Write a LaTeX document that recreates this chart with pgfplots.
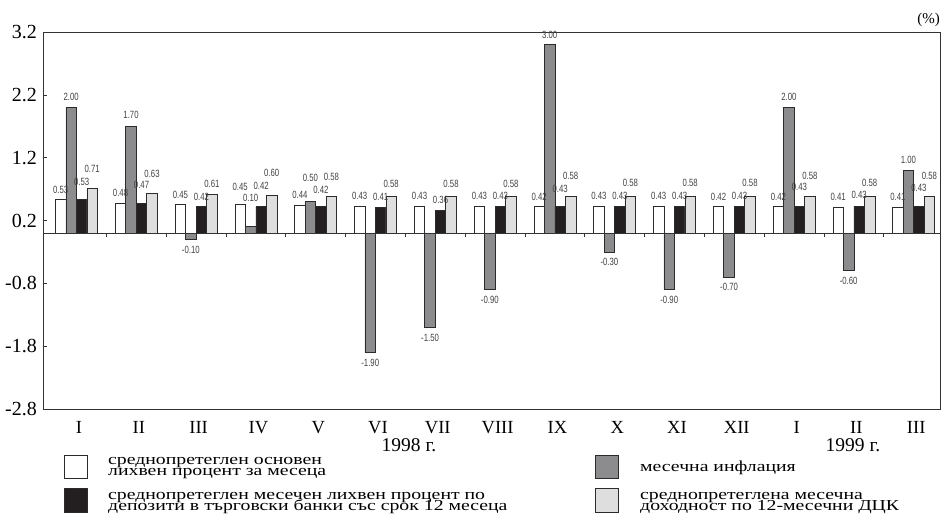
\documentclass[border=0pt]{standalone}
\usepackage{pgfplots}
\pgfplotsset{compat=1.18}
\usepackage{pgfplotstable}
\usepackage{fontspec}
\setmainfont{Liberation Serif}
\newfontfamily\labelfont[FakeStretch=0.74]{Liberation Sans}
\newfontfamily\legendfont[FakeStretch=1.3]{Liberation Serif}
% legend captions: fixed 11pt leading, whatever the line contents
\newcommand\legendstyle{\legendfont\fontsize{15.2}{11}\selectfont
  \lineskiplimit=-20pt\relax\lineskip=0pt\relax}

\definecolor{bargray}{HTML}{8C8C8E}
\definecolor{barblack}{HTML}{231F20}
\definecolor{barlight}{HTML}{DEDEDE}
\definecolor{edge}{HTML}{2B2B2B}

% x = month index, y = value (%), dy = extra lift of the value label (pt)
\pgfplotstableread{
x y dy
0 0.53 0
1 0.48 0
2 0.45 0
3 0.45 8
4 0.44 0
5 0.43 0
6 0.43 0
7 0.43 0
8 0.42 0
9 0.43 0
10 0.43 0
11 0.42 0
12 0.42 0
13 0.41 0
14 0.41 0
}\basicrate

\pgfplotstableread{
x y dy
0 2.00 0
1 1.70 1
2 -0.10 0
3 0.10 19
4 0.50 14
5 -1.90 0
6 -1.50 0
7 -0.90 0
8 3.00 0
9 -0.30 0
10 -0.90 0
11 -0.70 0
12 2.00 0
13 -0.60 0
14 1.00 0
}\inflation

\pgfplotstableread{
x y dy
0 0.53 8
1 0.47 9
2 0.42 0
3 0.42 11
4 0.42 7
5 0.41 0
6 0.36 0
7 0.43 0
8 0.43 7
9 0.43 0
10 0.43 0
11 0.43 0
12 0.43 9
13 0.43 1
14 0.43 8
}\deposits

\pgfplotstableread{
x y dy
0 0.71 10
1 0.63 10
2 0.61 1
3 0.60 12
4 0.58 10
5 0.58 3
6 0.58 3
7 0.58 3
8 0.58 11
9 0.58 4
10 0.58 4
11 0.58 4
12 0.58 11
13 0.58 4
14 0.58 11
}\govsec

\begin{document}
\begin{tikzpicture}
\path[use as bounding box] (-43pt,-106pt) rectangle (900pt,409pt);
\begin{axis}[
  at={(0pt,0pt)}, anchor=south west, scale only axis,
  width=897pt, height=377pt,
  xmin=-0.56, xmax=14.44, ymin=-2.8, ymax=3.2,
  axis line style={draw=black!80, line width=0.6pt},
  xtick={0,...,14},
  xticklabels={I,II,III,IV,V,VI,VII,VIII,IX,X,XI,XII,I,II,III},
  major x tick style={draw=none},
  xticklabel style={font=\fontsize{18.5}{18.5}\selectfont, anchor=north,
    inner sep=0pt, yshift=-8.5pt, xshift=2.5pt},
  ytick={-2.8,-1.8,-0.8,0.2,1.2,2.2,3.2},
  yticklabel style={font=\fontsize{20}{20}\selectfont, anchor=east,
    inner sep=0pt, xshift=-6pt,
    /pgf/number format/fixed, /pgf/number format/fixed zerofill,
    /pgf/number format/precision=1, /pgf/number format/assume math mode=true},
  ytick pos=left, tick align=inside, major tick length=4pt,
  ytick style={draw=black!80, line width=0.6pt},
  ybar, bar width=10.5pt,
  every axis plot/.append style={draw=edge, line width=0.7pt},
  nodes near coords={\pgfmathprintnumber[fixed,fixed zerofill,precision=2,assume math mode=true]{\pgfplotspointmeta}},
  nodes near coords style={font=\labelfont\fontsize{10.5}{10.5}\selectfont,
    text=black!75, inner xsep=0pt, inner ysep=6pt},
  visualization depends on={\thisrow{dy} \as \dy},
  every node near coord/.append style={yshift=\dy pt},
  clip=false,
]
\addplot[fill=white, bar shift=-15.75pt] table[x=x, y=y] {\basicrate};
\addplot[fill=bargray, bar shift=-5.25pt] table[x=x, y=y] {\inflation};
\addplot[fill=barblack, bar shift=5.25pt] table[x=x, y=y] {\deposits};
\addplot[fill=barlight, bar shift=15.75pt] table[x=x, y=y] {\govsec};

% zero line and the month separators on it
\draw[black!80, line width=0.6pt] (axis cs:-0.56,0) -- (axis cs:14.44,0);
\pgfplotsinvokeforeach{0,...,13}{
  \draw[black!80, line width=0.6pt] (axis cs:#1.5,0) -- ++(0pt,-4pt);
}
\end{axis}

% unit and years
\node[anchor=east, inner sep=0pt, font=\fontsize{15}{15}\selectfont] at (897pt,389pt) {(\%)};
\node[anchor=base, inner sep=0pt, font=\fontsize{19.5}{19.5}\selectfont] at (366pt,-42.5pt) {1998 г.};
\node[anchor=base, inner sep=0pt, font=\fontsize{19.5}{19.5}\selectfont] at (810pt,-42.5pt) {1999 г.};

% legend: swatches with two-line captions (each node anchored on its last line)
\begin{scope}[every node/.style={anchor=base west, inner sep=0pt, align=left,
    font=\legendstyle}]
\draw[edge, line width=0.7pt, fill=white] (21pt,-46pt) rectangle (44pt,-69pt);
\node at (65pt,-66pt) {среднопретеглен основен\\лихвен процент за месеца};
\draw[edge, line width=0.7pt, fill=barblack] (21pt,-79pt) rectangle (44pt,-103pt);
\node at (65pt,-101pt) {среднопретеглен месечен лихвен процент по\\депозити в търговски банки със срок 12 месеца};
\draw[edge, line width=0.7pt, fill=bargray] (552pt,-46pt) rectangle (575pt,-69pt);
\node at (597pt,-62.3pt) {месечна инфлация};
\draw[edge, line width=0.7pt, fill=barlight] (552pt,-79pt) rectangle (575pt,-103pt);
\node at (597pt,-101pt) {среднопретеглена месечна\\доходност по 12-месечни ДЦК};
\end{scope}
\end{tikzpicture}
\end{document}
